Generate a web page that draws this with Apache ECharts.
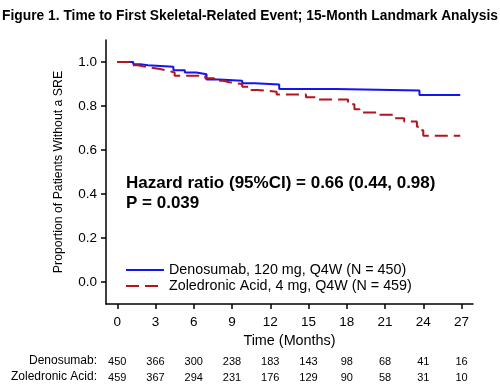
<!DOCTYPE html>
<html>
<head>
<meta charset="utf-8">
<script src="https://cdn.jsdelivr.net/npm/echarts@6/dist/echarts.min.js"></script>
<style>
html,body{margin:0;padding:0;background:#fff;}
#chart{width:500px;height:384px;}
</style>
</head>
<body>
<div id="chart"></div>
<script>
var titleText = 'Figure 1. Time to First Skeletal-Related Event; 15-Month Landmark Analysis';
var xTicks = [0, 3, 6, 9, 12, 15, 18, 21, 24, 27];
var yTicks = [0, 0.2, 0.4, 0.6, 0.8, 1.0];

var denoName = 'Denosumab, 120 mg, Q4W (N = 450)';
var denoTime = [0, 1.25, 1.8, 2.4, 4.4, 5.3, 6.2, 7.0, 8.0, 9.8, 10.8, 12.7, 17.1, 23.7, 26.9];
var denoSurv = [1.0, 0.99, 0.985, 0.978, 0.962, 0.952, 0.944, 0.921, 0.915, 0.903, 0.898, 0.877, 0.87, 0.85, 0.85];

var zolName = 'Zoledronic Acid, 4 mg, Q4W (N = 459)';
var zolTime = [0, 1.1, 1.6, 2.4, 3.35, 4.0, 4.5, 6.9, 7.6, 8.3, 8.8, 9.8, 10.5, 11.0, 12.5, 14.8, 15.5, 18.1, 18.6, 19.0, 20.6, 21.7, 22.5, 23.5, 23.8, 24.0, 26.9];
var zolSurv = [1.0, 0.985, 0.976, 0.968, 0.96, 0.952, 0.938, 0.926, 0.915, 0.908, 0.9, 0.888, 0.873, 0.865, 0.852, 0.84, 0.83, 0.808, 0.785, 0.771, 0.76, 0.744, 0.729, 0.706, 0.69, 0.665, 0.665];

var riskLabels = ['Denosumab:', 'Zoledronic Acid:'];
var denoRisk = [450, 366, 300, 238, 183, 143, 98, 68, 41, 16];
var zolRisk = [459, 367, 294, 231, 176, 129, 90, 58, 31, 10];

var annot1 = 'Hazard ratio (95%CI) = 0.66 (0.44, 0.98)';
var annot2 = 'P = 0.039';

var FONT = '"Liberation Sans", Arial, sans-serif';
var BLUE = '#1414f0';
var RED = '#b3141e';

function pairs(t, s) { return t.map(function (v, i) { return [v, s[i]]; }); }
function riskAxis(arr, margin) {
  return {
    type: 'value', position: 'bottom', min: -0.885, max: 27.9, gridIndex: 0,
    axisLine: { show: false }, axisTick: { show: false }, splitLine: { show: false },
    axisLabel: {
      customValues: xTicks, margin: margin, color: '#000', fontFamily: FONT, fontSize: 11,
      formatter: function (v) { var i = xTicks.indexOf(Math.round(v)); return i >= 0 ? String(arr[i]) : ''; }
    }
  };
}

var chart = echarts.init(document.getElementById('chart'), null, { renderer: 'canvas' });
chart.setOption({
  animation: false,
  backgroundColor: '#fff',
  title: {
    text: titleText, left: 'center', top: 4,
    textStyle: { fontFamily: FONT, fontSize: 13.8, fontWeight: 'bold', color: '#000' }
  },
  grid: { left: 106, right: 27, top: 40, bottom: 80, containLabel: false },
  legend: {
    orient: 'vertical', left: 120, top: 258, itemWidth: 38, itemHeight: 14, itemGap: 2,
    textStyle: { fontFamily: FONT, fontSize: 14.3, color: '#000' },
    itemStyle: { opacity: 0 },
    data: [denoName, zolName]
  },
  xAxis: [
    {
      type: 'value', min: -0.885, max: 27.9,
      name: 'Time (Months)', nameLocation: 'middle', nameGap: 30,
      nameTextStyle: { fontFamily: FONT, fontSize: 14.4, color: '#000' },
      axisLine: { show: true, onZero: false, lineStyle: { color: '#000', width: 1.5 } },
      axisTick: { show: true, customValues: xTicks, length: 5, lineStyle: { color: '#000', width: 1.5 } },
      axisLabel: { customValues: xTicks, margin: 11, color: '#000', fontFamily: FONT, fontSize: 13.5 },
      splitLine: { show: false }
    },
    riskAxis(denoRisk, 52),
    riskAxis(zolRisk, 68)
  ],
  yAxis: {
    type: 'value', min: -0.1, max: 1.1,
    name: 'Proportion of Patients Without a SRE', nameLocation: 'middle', nameGap: 41,
    nameTextStyle: { fontFamily: FONT, fontSize: 12.3, color: '#000' },
    axisLine: { show: true, onZero: false, lineStyle: { color: '#000', width: 1.5 } },
    axisTick: { show: true, customValues: yTicks, length: 5, lineStyle: { color: '#000', width: 1.5 } },
    axisLabel: {
      customValues: yTicks, margin: 9, color: '#000', fontFamily: FONT, fontSize: 13.5,
      formatter: function (v) { return v.toFixed(1); }
    },
    splitLine: { show: false }
  },
  graphic: [
    { type: 'text', left: 126, top: 175, style: { text: annot1, fontFamily: FONT, fontSize: 17, fontWeight: 'bold', fill: '#000' } },
    { type: 'text', left: 126, top: 195, style: { text: annot2, fontFamily: FONT, fontSize: 17, fontWeight: 'bold', fill: '#000' } },
    { type: 'text', right: 403, top: 355, style: { text: riskLabels[0], fontFamily: FONT, fontSize: 12, fill: '#000', textAlign: 'right' } },
    { type: 'text', right: 403, top: 371, style: { text: riskLabels[1], fontFamily: FONT, fontSize: 12, fill: '#000', textAlign: 'right' } }
  ],
  series: [
    {
      name: denoName, type: 'line', step: 'end', symbol: 'none', xAxisIndex: 0,
      data: pairs(denoTime, denoSurv),
      lineStyle: { color: BLUE, width: 2 }, itemStyle: { color: BLUE }
    },
    {
      name: zolName, type: 'line', step: 'end', symbol: 'none', xAxisIndex: 0,
      data: pairs(zolTime, zolSurv),
      lineStyle: { color: RED, width: 2, type: [13, 6] }, itemStyle: { color: RED }
    }
  ]
});
</script>
</body>
</html>
